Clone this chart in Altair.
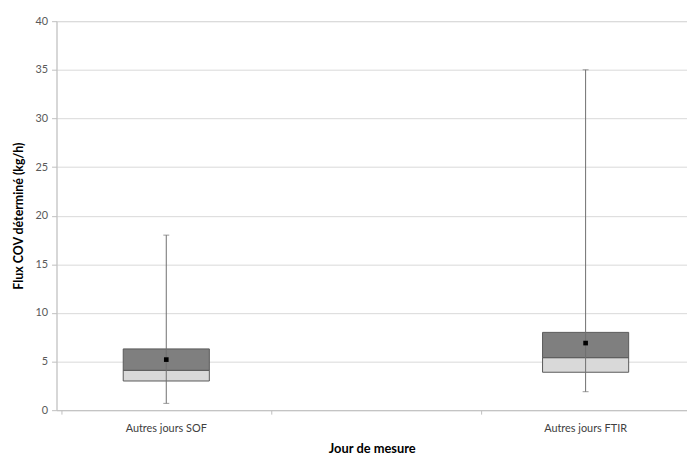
import altair as alt
import pandas as pd

categories = ["Autres jours SOF", "Autres jours FTIR"]
positions = [0.5, 2.5]
mins = [0.7, 1.9]
q1 = [3.0, 3.9]
median = [4.1, 5.4]
q3 = [6.3, 8.0]
maxs = [18.0, 35.0]
means = [5.2, 6.9]

df = pd.DataFrame({"cat": categories, "pos": positions, "min": mins, "q1": q1,
                   "med": median, "q3": q3, "max": maxs, "mean": means})

FONT = "Lato"
xs = alt.Scale(domain=[0, 2.96], nice=False, zero=False)
ys = alt.Scale(domain=[0, 40], nice=False)

xaxis = alt.Axis(values=[0, 1, 2], labels=False, grid=False, tickSize=4,
                 tickColor="#bfbfbf", domainColor="#bfbfbf", title="Jour de mesure",
                 titleFont=FONT, titleFontSize=13, titleFontWeight="bold",
                 titleColor="#000000", titlePadding=28)
yaxis = alt.Axis(values=list(range(0, 41, 5)), tickSize=5, tickColor="#bfbfbf",
                 domainColor="#bfbfbf", gridColor="#d9d9d9", labelColor="#595959",
                 labelFont=FONT, labelFontSize=11, labelPadding=4,
                 title="Flux COV déterminé (kg/h)", titleFont=FONT, titleFontSize=12.5,
                 titleFontWeight="bold", titleColor="#000000", titlePadding=10)

base = alt.Chart(df)

lower = base.mark_bar(size=87, color="#d9d9d9", stroke="#595959", strokeWidth=1).encode(
    x=alt.X("pos:Q", scale=xs, axis=xaxis),
    y=alt.Y("q1:Q", scale=ys, axis=yaxis),
    y2="med:Q")
upper = base.mark_bar(size=87, color="#7f7f7f", stroke="#595959", strokeWidth=1).encode(
    x=alt.X("pos:Q"), y=alt.Y("med:Q"), y2="q3:Q")
whisker = base.mark_rule(color="#6f6f6f", strokeWidth=1).encode(
    x="pos:Q", y="min:Q", y2="max:Q")
cap_lo = base.mark_tick(color="#6f6f6f", size=6, thickness=1, orient="horizontal").encode(
    x="pos:Q", y="min:Q")
cap_hi = base.mark_tick(color="#6f6f6f", size=6, thickness=1, orient="horizontal").encode(
    x="pos:Q", y="max:Q")
mean_pt = base.mark_point(shape="square", filled=True, color="#000000", size=22, opacity=1).encode(
    x="pos:Q", y="mean:Q")
labels = base.mark_text(font=FONT, fontSize=11, color="#404040", baseline="middle").encode(
    x="pos:Q", y=alt.value(412), text="cat:N")

chart = alt.layer(lower, upper, whisker, cap_lo, cap_hi, mean_pt, labels).properties(
    width=637, height=393,
    autosize=alt.AutoSizeParams(type="none"),
    padding={"left": 49, "top": 11, "right": 0, "bottom": 46},
).configure_view(stroke=None).configure(background="#ffffff")

chart.save("out.html", embed_options={"renderer": "svg", "actions": False})
